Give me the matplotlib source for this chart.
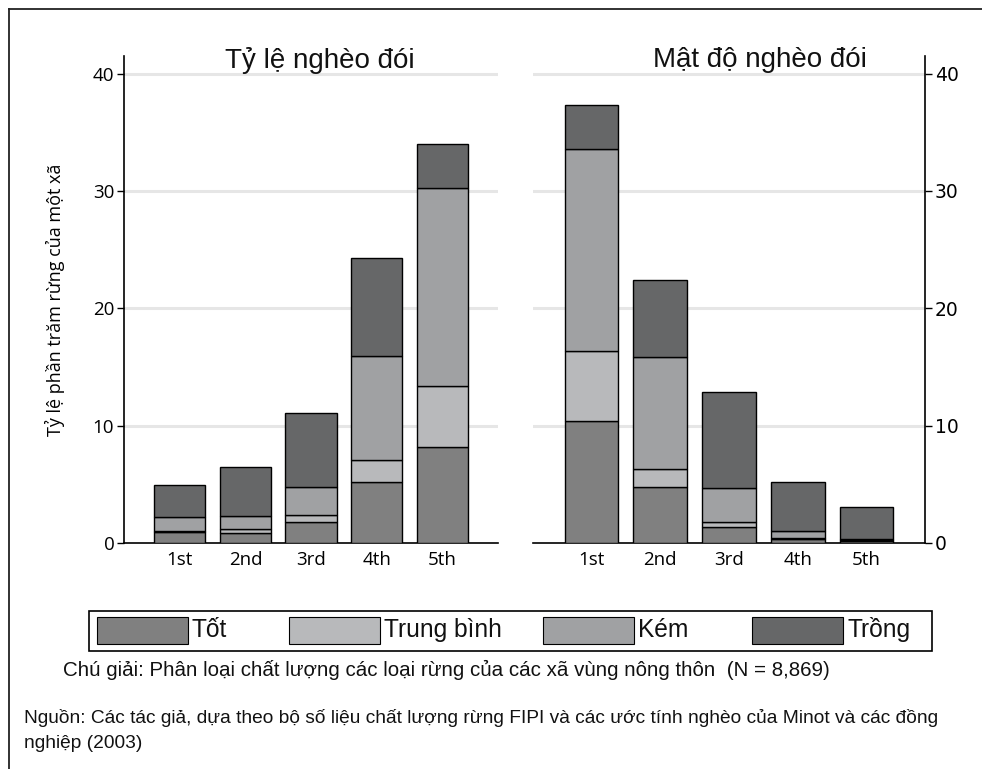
import matplotlib
matplotlib.use("Agg")
import matplotlib.pyplot as plt
from matplotlib import font_manager
from matplotlib.patches import Rectangle
from matplotlib.lines import Line2D
import numpy as np

# Quintile labels
ranks = ["1st", "2nd", "3rd", "4th", "5th"]

# Forest quality classes (stack order, bottom to top)
classes = ["Tốt", "Trung bình", "Kém", "Trồng"]
class_colors = ["#808080", "#b8b9bb", "#a0a1a3", "#666768"]

# Poverty rate quintiles: share of commune area per forest class
rate_tot = [0.90, 0.83, 1.79, 5.20, 8.21]
rate_trungbinh = [0.10, 0.34, 0.62, 1.85, 5.18]
rate_kem = [1.20, 1.11, 2.39, 8.90, 16.86]
rate_trong = [2.75, 4.22, 6.26, 8.30, 3.75]

# Poverty density quintiles
dens_tot = [10.38, 4.80, 1.39, 0.35, 0.20]
dens_trungbinh = [5.97, 1.48, 0.36, 0.05, 0.05]
dens_kem = [17.23, 9.58, 2.90, 0.60, 0.07]
dens_trong = [3.75, 6.51, 8.19, 4.20, 2.78]

yticks = [0, 10, 20, 30, 40]

panel_titles = ["Tỷ lệ nghèo đói", "Mật độ nghèo đói"]
ylabel = "Tỷ lệ phần trăm rừng của một xã"
note = "Chú giải: Phân loại chất lượng các loại rừng của các xã vùng nông thôn  (N = 8,869)"
source_1 = "Nguồn: Các tác giả, dựa theo bộ số liệu chất lượng rừng FIPI và các ước tính nghèo của Minot và các đồng"
source_2 = "nghiệp (2003)"


def pick_font(names):
    for n in names:
        try:
            font_manager.findfont(n, fallback_to_default=False)
            return n
        except Exception:
            continue
    return "DejaVu Sans"


textfont = pick_font(["Liberation Sans", "DejaVu Sans"])
tickfont = pick_font(["Open Sans", "Noto Sans", "DejaVu Sans"])

W, H = 982, 769
fig = plt.figure(figsize=(W / 100, H / 100), dpi=100)
fig.patch.set_facecolor("white")
renderer = fig.canvas.get_renderer()


def fx(px):
    return px / W


def fy(py):
    return 1 - py / H


def fitted_size(s, width_px, base=12):
    """Font size at which s spans width_px pixels."""
    t = fig.text(0, 0, s, fontsize=base, family=textfont)
    w = t.get_window_extent(renderer=renderer).width
    t.remove()
    return base * width_px / w


def put(px, py, s, size, ha="left"):
    return fig.text(fx(px), fy(py), s, fontsize=size, family=textfont,
                    ha=ha, va="center", color="#111111")


ax_bottom = fy(543)
ax_height = (543 - 56) / H
axL = fig.add_axes([fx(124), ax_bottom, (498 - 124) / W, ax_height])
axR = fig.add_axes([fx(533), ax_bottom, (925 - 533) / W, ax_height])

x = np.arange(1, len(ranks) + 1)
width = 0.78

series = [
    (axL, [rate_tot, rate_trungbinh, rate_kem, rate_trong]),
    (axR, [dens_tot, dens_trungbinh, dens_kem, dens_trong]),
]

for ax, segs in series:
    bottom = np.zeros(len(ranks))
    for vals, col in zip(segs, class_colors):
        vals = np.array(vals)
        ax.bar(x, vals, width, bottom=bottom, color=col, edgecolor="black",
               linewidth=1.0, zorder=3)
        bottom += vals
    ax.set_xlim(0.15, 5.85)
    ax.set_ylim(0, 41.5)
    ax.set_yticks(yticks)
    for t in yticks[1:]:
        ax.axhline(t, color="#e6e6e6", linewidth=2.2, zorder=1)
    ax.set_xticks(x)
    ax.set_xticklabels(ranks, fontsize=13.5, family=tickfont)
    ax.tick_params(axis="x", length=0, pad=6)
    ax.tick_params(axis="y", length=5, width=1, labelsize=13.5, pad=2)
    for lab in ax.get_yticklabels():
        lab.set_family(tickfont)
    for s in ax.spines.values():
        s.set_linewidth(1.2)
        s.set_color("black")
    ax.spines["top"].set_visible(False)
    ax.set_facecolor("none")

axL.spines["right"].set_visible(False)
axR.spines["left"].set_visible(False)
axR.yaxis.tick_right()
axR.yaxis.set_label_position("right")

axL.set_ylabel(ylabel, fontsize=13, family=tickfont, labelpad=20)

title_size = fitted_size(panel_titles[0], 190)
put(320, 60, panel_titles[0], title_size, ha="center")
put(760, 60, panel_titles[1], title_size, ha="center")

# Legend box drawn in figure coordinates
fig.add_artist(Rectangle((fx(89), fy(651)), (932 - 89) / W, (651 - 611) / H,
                         transform=fig.transFigure, facecolor="white",
                         edgecolor="black", linewidth=1.2))
legend_size = fitted_size(classes[1], 118)
patch_x = [97, 289, 543, 752]
for px, col, name in zip(patch_x, class_colors, classes):
    fig.add_artist(Rectangle((fx(px), fy(644)), 91 / W, 27 / H,
                             transform=fig.transFigure, facecolor=col,
                             edgecolor="black", linewidth=0.8))
    put(px + 95, 630, name, legend_size)

put(63, 670, note, fitted_size(note, 770))
src_size = fitted_size(source_1, 915)
put(24, 718, source_1, src_size)
put(24, 743, source_2, src_size)

# Outer frame (top and left edges visible)
fig.add_artist(Line2D([fx(9), 1], [fy(9), fy(9)], transform=fig.transFigure,
                      color="#222222", linewidth=1.3))
fig.add_artist(Line2D([fx(9), fx(9)], [fy(9), 0], transform=fig.transFigure,
                      color="#222222", linewidth=1.3))

fig.savefig("out.png", dpi=100, facecolor="white")
